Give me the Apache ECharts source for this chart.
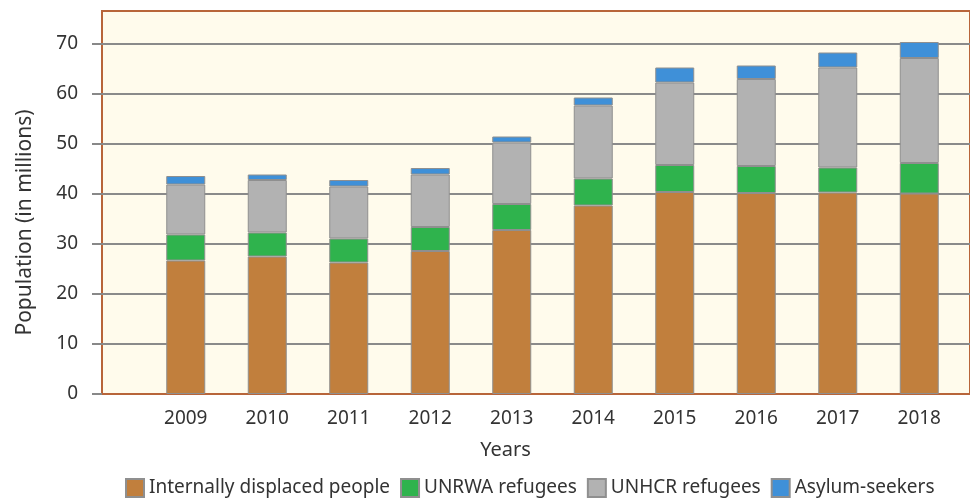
<!DOCTYPE html>
<html>
<head>
<meta charset="utf-8">
<script src="https://cdn.jsdelivr.net/npm/echarts@6/dist/echarts.min.js"></script>
<style>
html,body{margin:0;padding:0;background:#ffffff;}
#chart{width:970px;height:500px;}
</style>
</head>
<body>
<div id="chart"></div>
<script>
const years = ['2009','2010','2011','2012','2013','2014','2015','2016','2017','2018'];
const idp = [26.7, 27.5, 26.3, 28.6, 32.8, 37.7, 40.4, 40.2, 40.3, 40.1];
const unrwa = [5.2, 4.8, 4.8, 4.8, 5.2, 5.4, 5.4, 5.4, 5.0, 6.1];
const unhcr = [10.0, 10.5, 10.4, 10.5, 12.3, 14.6, 16.5, 17.4, 20.0, 21.0];
const asylum = [1.7, 1.1, 1.3, 1.3, 1.2, 1.6, 3.0, 2.7, 3.0, 3.2];
const yTicks = ['0','10','20','30','40','50','60','70'];

const FONT = 'Noto Sans';
const chart = echarts.init(document.getElementById('chart'));
const yMax = 76.6;
const barStyle = (c) => ({ color: c, borderColor: '#8f8f8f', borderWidth: 1 });
function mk(name, data, color) {
  return {
    name, type: 'bar', stack: 'total', data, xAxisIndex: 1, yAxisIndex: 1,
    barWidth: 39, itemStyle: barStyle(color), emphasis: { disabled: true }
  };
}
chart.setOption({
  animation: false,
  textStyle: { fontFamily: FONT },
  grid: [
    { left: 102, right: -4, top: 11, bottom: 106, show: true, backgroundColor: '#fffbec', borderColor: '#b8653a', borderWidth: 2 },
    { left: 145, right: 10, top: 11, bottom: 106 }
  ],
  xAxis: [
    { type: 'category', gridIndex: 0, data: [''], show: false },
    {
      type: 'category', gridIndex: 1, data: years,
      axisLine: { show: false }, axisTick: { show: false },
      axisLabel: { color: '#333', fontSize: 19, margin: 15, fontFamily: FONT },
      name: 'Years', nameLocation: 'middle', nameGap: 46,
      nameTextStyle: { color: '#333', fontSize: 20, fontFamily: FONT, padding: [0, 94, 0, 0] }
    }
  ],
  yAxis: [
    {
      type: 'value', gridIndex: 0, min: 0, max: yMax, interval: 10,
      axisLine: { show: false },
      axisTick: { show: true, inside: false, length: 10, lineStyle: { color: '#888', width: 2 } },
      splitLine: { show: true, showMinLine: false, showMaxLine: false, lineStyle: { color: '#8a8a8a', width: 2 } },
      axisLabel: {
        color: '#333', fontSize: 19, margin: 24, showMaxLabel: false, fontFamily: FONT,
        formatter: (v) => yTicks.includes(String(v)) ? String(v) : ''
      },
      name: 'Population (in millions)', nameLocation: 'middle', nameGap: 66,
      nameTextStyle: { color: '#333', fontSize: 21, fontFamily: FONT, padding: [0, 40, 0, 0] }
    },
    { type: 'value', gridIndex: 1, min: 0, max: yMax, show: false, splitLine: { show: false } }
  ],
  legend: {
    bottom: -3, left: 120, itemWidth: 18, itemHeight: 18, itemGap: 10,
    icon: 'rect',
    textStyle: { color: '#333', fontSize: 19, fontFamily: FONT },
    data: ['Internally displaced people', 'UNRWA refugees', 'UNHCR refugees', 'Asylum-seekers']
  },
  series: [
    mk('Internally displaced people', idp, '#c17f3d'),
    mk('UNRWA refugees', unrwa, '#2fb34d'),
    mk('UNHCR refugees', unhcr, '#b2b2b2'),
    mk('Asylum-seekers', asylum, '#3f90d8')
  ]
});
</script>
</body>
</html>
